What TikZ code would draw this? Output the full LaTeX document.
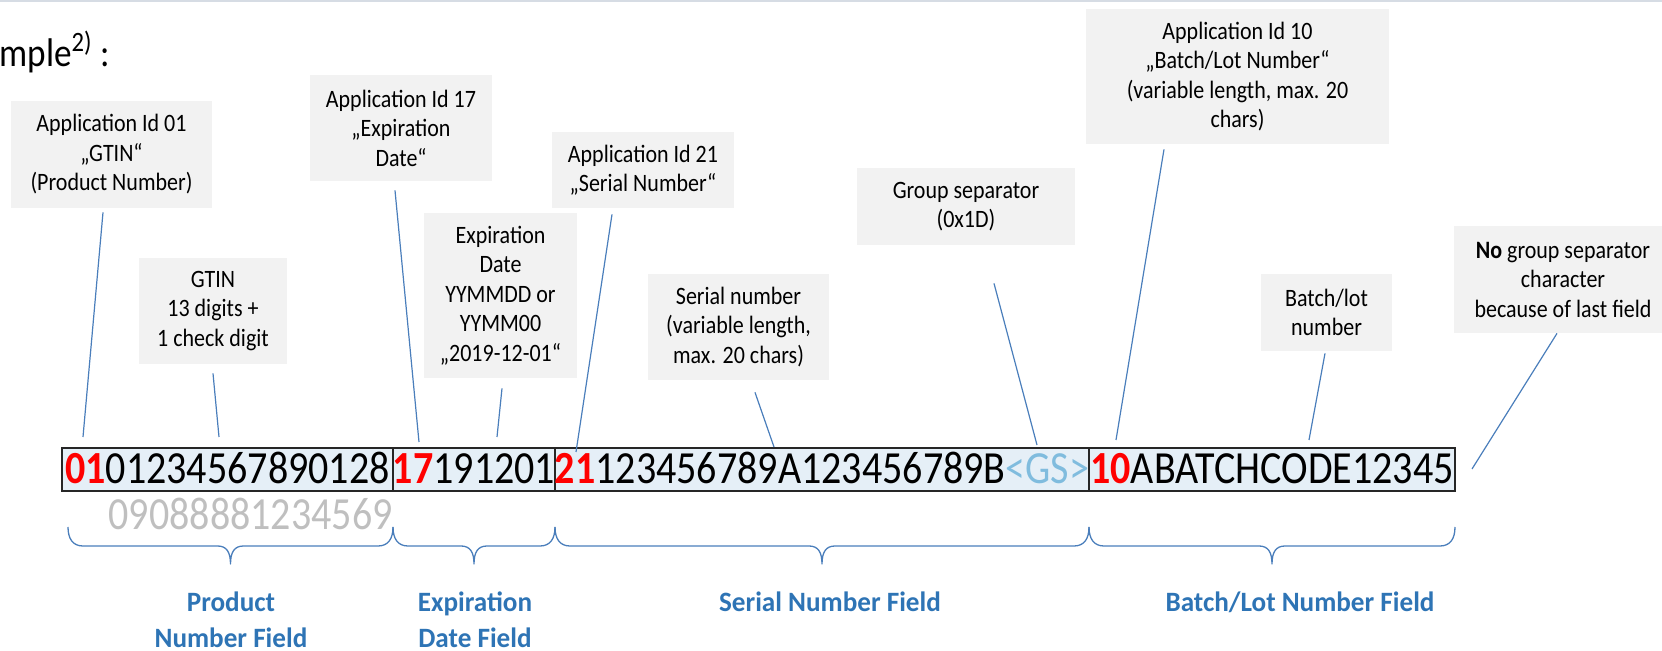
\documentclass[tikz,border=0pt]{standalone}
\usepackage{fontspec}
\setmainfont{Carlito}[FakeStretch=0.88]
\newfontfamily\strfont{Carlito}[FakeStretch=0.87]
\newfontfamily\fieldfont{Carlito}[FakeStretch=0.97]
\usetikzlibrary{calc}
\definecolor{boxgray}{RGB}{242,242,242}
\definecolor{callblue}{RGB}{74,126,187}
\definecolor{strfill}{RGB}{229,239,247}
\definecolor{gsblue}{RGB}{128,188,222}
\definecolor{fieldblue}{RGB}{46,116,181}
\definecolor{digitgray}{RGB}{191,191,191}
\definecolor{topline}{RGB}{214,220,228}
\definecolor{aidred}{RGB}{255,0,0}
% brace from x=#1 to x=#2 with tip at x=#3 (pixel units)
\newcommand\drawfieldbrace[3]{%
  \draw[fieldbrace] (#1,527) .. controls (#1,539) and (#1+5,546) .. (#1+15,546)
    -- (#3-13,546) .. controls (#3-4,546) and (#3,552) .. (#3,564)
    .. controls (#3,552) and (#3+4,546) .. (#3+13,546)
    -- (#2-15,546) .. controls (#2-5,546) and (#2,539) .. (#2,527);}
\begin{document}
\begin{tikzpicture}[x=0.5pt,y=-0.5pt,
  infobox/.style={fill=boxgray, inner sep=0pt, align=center, text=black,
    font=\fontsize{12.5}{14.75}\selectfont},
  callout/.style={draw=callblue, line width=0.6pt},
  seg/.style={draw=black!85, line width=0.75pt, fill=strfill, inner sep=0pt,
    minimum height=21.5pt, text height=14.5pt, text depth=0pt,
    font=\strfont\fontsize{23}{27}\selectfont},
  fieldbrace/.style={draw=callblue, line width=0.65pt, line join=round},
  fieldlabel/.style={text=fieldblue, align=center, inner sep=0pt,
    font=\fieldfont\bfseries\fontsize{14}{18}\selectfont}
]
\useasboundingbox (0,0) rectangle (1662,651);
\clip (0,0) rectangle (1662,651);

% top rule
\draw[topline, line width=1pt] (0,1) -- (1662,1);

% title fragment
\node[anchor=base west, inner sep=0pt, font=\fontsize{20}{24}\selectfont] (title) at (-1,67) {mple\textsuperscript{2)} :};

% info boxes
\node[infobox, minimum width=100.5pt, minimum height=53.5pt] (b01) at (111.5,154.5) {Application Id 01\\„GTIN“\\(Product Number)};
\node[infobox, minimum width=91pt, minimum height=53pt] (b17) at (401,128) {Application Id 17\\„Expiration\\Date“};
\node[infobox, minimum width=74pt, minimum height=53pt] (bgtin) at (213,311) {GTIN\\13 digits +\\1 check digit};
\node[infobox, minimum width=76.5pt, minimum height=82.5pt] (bexp) at (500.5,295.5) {Expiration\\Date\\YYMMDD or\\YYMM00\\„2019-12-01“};
\node[infobox, minimum width=91pt, minimum height=38pt] (b21) at (643,170) {Application Id 21\\„Serial Number“};
\node[infobox, minimum width=90.5pt, minimum height=53pt] (bser) at (738.5,327) {Serial number\\(variable length,\\max. 20 chars)};
\node[infobox, minimum width=109pt, minimum height=38.5pt] (bgs) at (966,206.5) {Group separator\\(0x1D)};
\node[infobox, minimum width=151.5pt, minimum height=67.5pt] (b10) at (1237.5,76.5) {Application Id 10\\„Batch/Lot Number“\\(variable length, max. 20\\chars)};
\node[infobox, minimum width=65.5pt, minimum height=38.5pt] (bbatch) at (1326.5,312.5) {Batch/lot\\number};
\node[infobox, minimum width=109pt, minimum height=53.5pt] (bno) at (1563,279.5) {\textbf{No} group separator\\character\\because of last field};

% encoded string
\node[seg, minimum width=165.5pt] (seg1) at (227.5,469.5) {{\bfseries\color{aidred}01}01234567890128};
\node[seg, minimum width=81pt] (seg2) at (474,469.5) {{\bfseries\color{aidred}17}191201};
\node[seg, minimum width=267pt] (seg3) at (822,469.5) {{\bfseries\color{aidred}21}123456789A123456789B{\color{gsblue}<GS>}};
\node[seg, minimum width=183pt] (seg4) at (1272,469.5) {{\bfseries\color{aidred}10}ABATCHCODE12345};

\node[anchor=base east, inner sep=0pt, text=digitgray, font=\strfont\fontsize{23}{27}\selectfont] (gtin) at (393,530) {09088881234569};

% connector end points
\coordinate (e01) at (83,437);
\coordinate (egtin) at (219,437);
\coordinate (e17) at (419,442);
\coordinate (eexp) at (497,437);
\coordinate (e21) at (576,452);
\coordinate (eser) at (774,447);
\coordinate (egs) at (1037,445);
\coordinate (e10) at (1116,440);
\coordinate (ebatch) at (1309,440);
\coordinate (eno) at (1472,469);

\draw[callout] ($(b01.south)+(-8.5,4)$) -- (e01);
\draw[callout] ($(bgtin.south)+(0,9)$) -- (egtin);
\draw[callout] ($(b17.south)+(-6,9)$) -- (e17);
\draw[callout] ($(bexp.south)+(1.5,10)$) -- (eexp);
\draw[callout] ($(b21.south)+(-31,6)$) -- (e21);
\draw[callout] ($(bser.south)+(16.5,12)$) -- (eser);
\draw[callout] ($(bgs.south)+(28,38)$) -- (egs);
\draw[callout] ($(b10.south)+(-73.5,5)$) -- (e10);
\draw[callout] ($(bbatch.south)+(-1.5,2)$) -- (ebatch);
\draw[callout] ($(bno.south)+(-6,0)$) -- (eno);

% braces
\drawfieldbrace{68}{393}{230.5}
\drawfieldbrace{393}{555}{474}
\drawfieldbrace{555}{1089}{822}
\drawfieldbrace{1089}{1455}{1272}

% field labels
\node[fieldlabel] (fprod) at (231,620) {Product\\Number Field};
\node[fieldlabel] (fexp) at (475,620) {Expiration\\Date Field};
\node[fieldlabel] (fser) at (830,602) {Serial Number Field};
\node[fieldlabel] (fbatch) at (1300,602) {Batch/Lot Number Field};
\end{tikzpicture}
\end{document}
